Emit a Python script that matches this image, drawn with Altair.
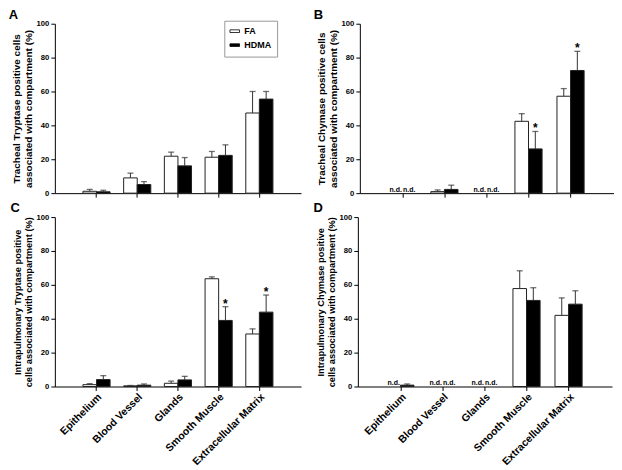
import altair as alt
import pandas as pd

categories = ["Epithelium", "Blood Vessel", "Glands", "Smooth Muscle", "Extracellular Matrix"]
groups = ["FA", "HDMA"]
y_ticks = [0, 20, 40, 60, 80, 100]

# Panel A: Tracheal tryptase
a_fa = [1.1, 9.0, 21.8, 21.2, 47.3]
a_fa_sem = [1.1, 2.8, 2.4, 3.4, 12.7]
a_hdma = [0.8, 5.1, 16.1, 22.3, 55.5]
a_hdma_sem = [0.9, 1.7, 4.9, 6.2, 4.5]
a_sig = [0, 0, 0, 0, 0]

# Panel B: Tracheal chymase (None = n.d.)
b_fa = [None, 0.9, None, 42.4, 57.2]
b_fa_sem = [None, 1.0, None, 4.5, 4.5]
b_hdma = [None, 2.2, None, 26.1, 72.4]
b_hdma_sem = [None, 2.5, None, 10.3, 11.3]
b_sig = [0, 0, 0, 1, 1]

# Panel C: Intrapulmonary tryptase
c_fa = [1.1, 0.4, 1.9, 63.6, 31.0]
c_fa_sem = [0.6, 0.2, 1.3, 1.1, 3.0]
c_hdma = [4.1, 0.8, 3.9, 39.0, 43.9]
c_hdma_sem = [2.3, 0.7, 2.1, 8.1, 10.1]
c_sig = [0, 0, 0, 1, 1]

# Panel D: Intrapulmonary chymase (None = n.d.)
d_fa = [None, None, None, 57.8, 42.0]
d_fa_sem = [None, None, None, 10.5, 10.3]
d_hdma = [0.8, None, None, 50.8, 48.6]
d_hdma_sem = [0.7, None, None, 7.5, 7.9]
d_sig = [0, 0, 0, 0, 0]

FONT = "Liberation Sans"


def panel(letter, fa, fa_sem, hdma, hdma_sem, sig, ytitle, ytitle_size,
          show_labels, legend, width, height):
    rows = []
    for i, c in enumerate(categories):
        for g, v, e in (("FA", fa[i], fa_sem[i]), ("HDMA", hdma[i], hdma_sem[i])):
            rows.append({
                "cat": c, "grp": g,
                "val": v, "up": None if v is None else v + e,
                "nd": "n.d." if v is None else "",
                "star": "*" if (g == "HDMA" and sig[i]) else "",
                "zero": 0,
            })
    df = pd.DataFrame(rows)

    if show_labels:
        xaxis = alt.Axis(title=None, labelAngle=-45, labelFontSize=10.5,
                         labelPadding=1, labelFontWeight="bold")
    else:
        xaxis = alt.Axis(title=None, labels=False)
    x = alt.X("cat:N", sort=categories,
              scale=alt.Scale(paddingInner=0.333, paddingOuter=0.69),
              axis=xaxis)
    xo = alt.XOffset("grp:N", sort=groups,
                     scale=alt.Scale(paddingInner=0, paddingOuter=0))
    yaxis = alt.Axis(title=ytitle, values=y_ticks, titleFontSize=ytitle_size,
                     titleLineHeight=ytitle_size * 1.15, titlePadding=3,
                     labelFontSize=7.7, labelPadding=2)

    def Y(field):
        return alt.Y(field, type="quantitative",
                     scale=alt.Scale(domain=[0, 100], nice=False, zero=True),
                     axis=yaxis)

    fill = alt.Fill("grp:N", sort=groups,
                    scale=alt.Scale(domain=groups, range=["white", "black"]),
                    legend=legend)

    base = alt.Chart(df)
    valid = base.transform_filter("isValid(datum.val)")
    bars = valid.mark_bar(stroke="#222", strokeWidth=1).encode(
        x=x, xOffset=xo, y=Y("val"), fill=fill)
    err = valid.mark_rule(color="#333", strokeWidth=1).encode(
        x=x, xOffset=xo, y=Y("val"), y2="up:Q")
    cap = valid.mark_tick(color="#333", thickness=1.3, size=6,
                          orient="horizontal").encode(
        x=x, xOffset=xo, y=Y("up"))
    stars = base.transform_filter("datum.star != ''").mark_text(
        fontSize=12, fontWeight="bold", baseline="bottom", dy=4,
        color="black").encode(x=x, xOffset=xo, y=Y("up"), text="star:N")
    nd = base.transform_filter("datum.nd != ''").mark_text(
        fontSize=7, fontWeight="bold", baseline="alphabetic", dy=-1.5,
        color="black").encode(x=x, xOffset=xo, y=Y("zero"), text="nd:N")

    return alt.layer(bars, err, cap, stars, nd).properties(
        width=width, height=height,
        title=alt.TitleParams(letter, anchor="start", frame="bounds",
                              fontSize=13, fontWeight="bold", font=FONT,
                              color="black", offset=-2, dx=-3),
    )


legend_a = alt.Legend(
    title=None, orient="none", legendX=170, legendY=-3,
    symbolType="M-1.6,-0.45L1.6,-0.45L1.6,0.45L-1.6,0.45Z", symbolSize=36,
    symbolStrokeColor="black", symbolStrokeWidth=0.8,
    labelFont=FONT, labelFontSize=9, labelFontWeight="bold", labelColor="black",
    labelOffset=5, strokeColor="#999", fillColor="white", padding=6,
    rowPadding=4,
)

H = 170
A = panel("A", a_fa, a_fa_sem, a_hdma, a_hdma_sem, a_sig,
          ["Tracheal Tryptase positive cells", "associated with compartment (%)"],
          10, False, legend_a, 247, H)
B = panel("B", b_fa, b_fa_sem, b_hdma, b_hdma_sem, b_sig,
          ["Tracheal Chymase positive cells", "associated with compartment (%)"],
          10, False, None, 255, H)
C = panel("C", c_fa, c_fa_sem, c_hdma, c_hdma_sem, c_sig,
          ["Intrapulmonary Tryptase positive", "cells associated with compartment (%)"],
          9.3, True, None, 247, H)
D = panel("D", d_fa, d_fa_sem, d_hdma, d_hdma_sem, d_sig,
          ["Intrapulmonary Chymase positive", "cells associated with compartment (%)"],
          9.3, True, None, 255, H)

top = alt.hconcat(A, B, spacing=12).resolve_scale(fill="independent").resolve_legend(fill="independent")
bottom = alt.hconcat(C, D, spacing=12).resolve_scale(fill="independent").resolve_legend(fill="independent")

chart = alt.vconcat(top, bottom, spacing=4).resolve_scale(
    fill="independent").resolve_legend(fill="independent").configure(
    font=FONT, padding={"left": 0, "top": 0, "right": 0, "bottom": 0}
).configure_view(stroke=None).configure_axis(
    grid=False, domainColor="black", tickColor="black", labelColor="black",
    titleColor="black", labelFont=FONT, titleFont=FONT,
    labelFontWeight="bold", titleFontWeight="bold", tickSize=4,
    domainWidth=1, tickWidth=1,
)

chart.save("out.html", embed_options={"renderer": "svg", "actions": False})
